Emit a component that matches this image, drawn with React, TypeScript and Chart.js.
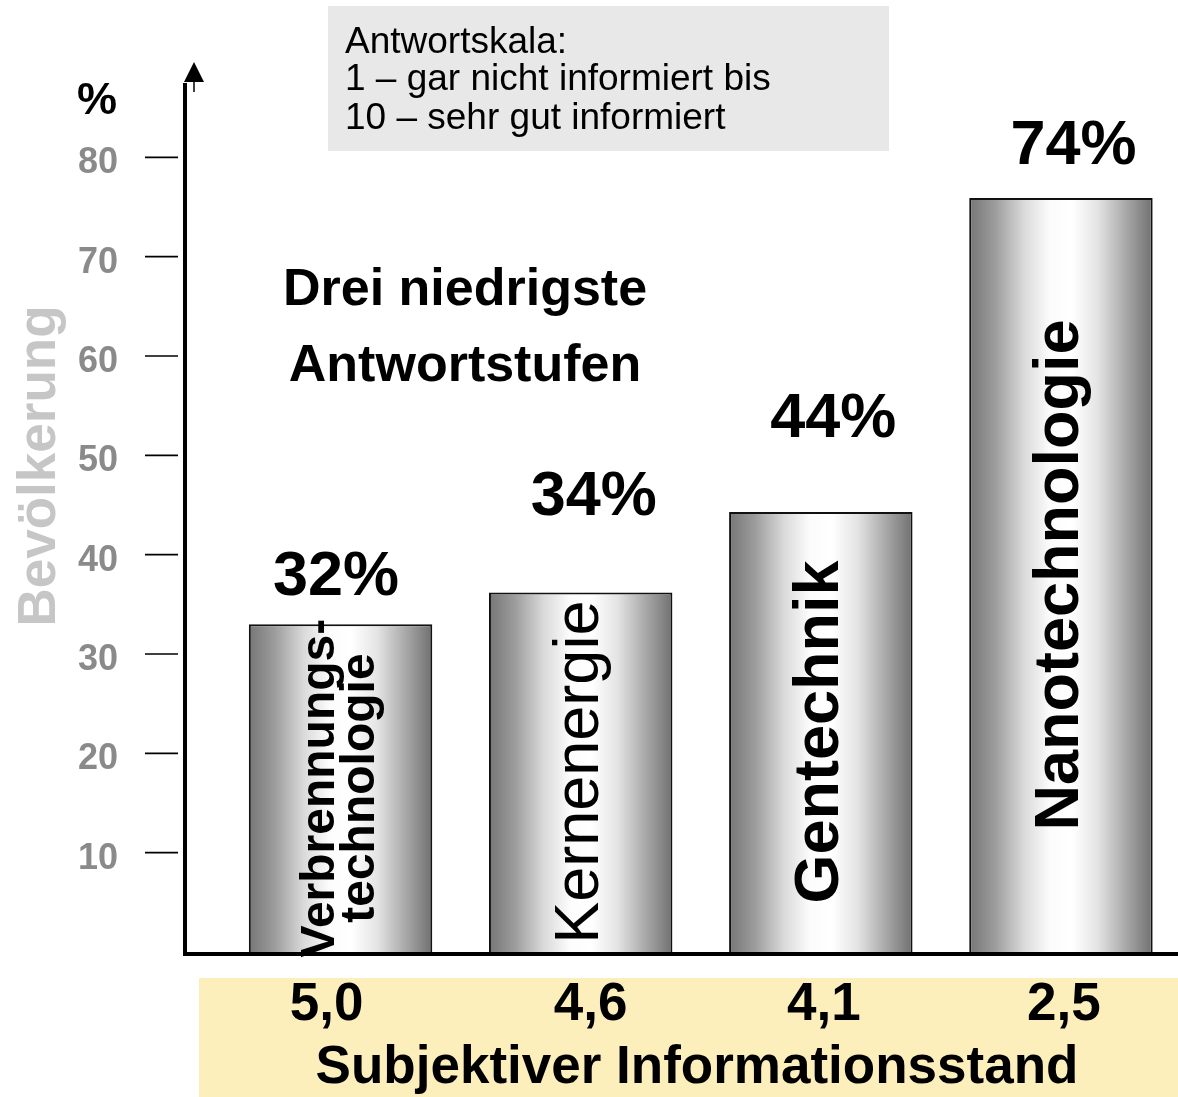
import React, { useEffect, useRef } from "react";
import { Chart, registerables } from "chart.js";

Chart.register(...registerables);

// ---- data ----
const technologies: string[][] = [
  ["Verbrennungs-", "technologie"],
  ["Kernenergie"],
  ["Gentechnik"],
  ["Nanotechnologie"],
];
const shareValues: number[] = [33.0, 36.2, 44.3, 75.9];
const shareLabels: string[] = ["32%", "34%", "44%", "74%"];
const infoScores: string[] = ["5,0", "4,6", "4,1", "2,5"];
const yTickValues: number[] = [10, 20, 30, 40, 50, 60, 70, 80];
const legendLines: string[] = ["Antwortskala:", "1 – gar nicht informiert bis", "10 – sehr gut informiert"];
const noteLines: string[] = ["Drei niedrigste", "Antwortstufen"];
const yTitle = "Bevölkerung";
const yUnit = "%";
const xTitle = "Subjektiver Informationsstand";

// ---- styles ----
const FONT = '"Liberation Sans", Arial, Helvetica, sans-serif';
const CANVAS_W = 1181;
const CANVAS_H = 1097;
const pctLabelPlace = [
  { dx: -4.5, dy: 29 },
  { dx: 13, dy: 77 },
  { dx: 12.5, dy: 75 },
  { dx: 12.5, dy: 34 },
];
const inBarStyle = [
  { font: `bold 48px ${FONT}`, offsets: [-7, 33] },
  { font: `normal 63px ${FONT}`, offsets: [17] },
  { font: `bold 63px ${FONT}`, offsets: [17] },
  { font: `bold 63px ${FONT}`, offsets: [17] },
];
const scoreDx = [-14, 10, 3, 3];

const overlay = {
  id: "overlay",
  beforeDraw(chart: any) {
    const ctx = chart.ctx as CanvasRenderingContext2D;
    ctx.save();
    ctx.fillStyle = "#ffffff";
    ctx.fillRect(0, 0, chart.width, chart.height);
    ctx.fillStyle = "#e8e8e8";
    ctx.fillRect(328, 6, 561, 145);
    ctx.fillStyle = "#fdefbb";
    ctx.fillRect(199, 978, chart.width - 199, chart.height - 978);
    ctx.restore();
  },
  afterDatasetsDraw(chart: any) {
    const ctx = chart.ctx as CanvasRenderingContext2D;
    const bars = chart.getDatasetMeta(0).data;
    ctx.save();
    ctx.fillStyle = "#000";
    bars.forEach((bar: any, i: number) => {
      const st = inBarStyle[i];
      ctx.save();
      ctx.translate(bar.x, (bar.y + bar.base) / 2);
      ctx.rotate(-Math.PI / 2);
      ctx.font = st.font;
      ctx.textAlign = "center";
      ctx.textBaseline = "alphabetic";
      technologies[i].forEach((line, j) => {
        ctx.fillText(line, 0, st.offsets[j]);
      });
      ctx.restore();
      const p = pctLabelPlace[i];
      ctx.font = `bold 63px ${FONT}`;
      ctx.textAlign = "center";
      ctx.textBaseline = "alphabetic";
      ctx.fillText(shareLabels[i], bar.x + p.dx, bar.y - p.dy);
      ctx.font = `bold 53px ${FONT}`;
      ctx.fillText(infoScores[i], bar.x + scoreDx[i], 1020);
    });
    ctx.restore();
  },
  afterDraw(chart: any) {
    const ctx = chart.ctx as CanvasRenderingContext2D;
    const y = chart.scales.y;
    const y0 = y.getPixelForValue(0);
    ctx.save();
    ctx.strokeStyle = "#000";
    ctx.lineWidth = 4;
    ctx.beginPath();
    ctx.moveTo(185, 83);
    ctx.lineTo(185, y0 + 2);
    ctx.lineTo(chart.width, y0 + 2);
    ctx.stroke();
    ctx.fillStyle = "#000";
    ctx.beginPath();
    ctx.moveTo(194, 62);
    ctx.lineTo(204, 82);
    ctx.lineTo(184, 82);
    ctx.closePath();
    ctx.fill();
    ctx.lineWidth = 1.5;
    ctx.beginPath();
    ctx.moveTo(194, 80);
    ctx.lineTo(194, 92);
    ctx.stroke();
    ctx.font = `bold 36px ${FONT}`;
    ctx.textAlign = "right";
    ctx.textBaseline = "alphabetic";
    yTickValues.forEach((v) => {
      const py = y.getPixelForValue(v);
      ctx.strokeStyle = "#000";
      ctx.lineWidth = 1.6;
      ctx.beginPath();
      ctx.moveTo(145, py);
      ctx.lineTo(178, py);
      ctx.stroke();
      ctx.fillStyle = "#8a8a8a";
      ctx.fillText(String(v), 118, py + 16);
    });
    ctx.fillStyle = "#000";
    ctx.font = `bold 45px ${FONT}`;
    ctx.textAlign = "left";
    ctx.fillText(yUnit, 77, 114);
    ctx.save();
    ctx.translate(55, 466);
    ctx.rotate(-Math.PI / 2);
    ctx.font = `bold 53px ${FONT}`;
    ctx.textAlign = "center";
    ctx.fillStyle = "#c6c6c6";
    ctx.fillText(yTitle, 0, 0);
    ctx.restore();
    ctx.fillStyle = "#000";
    ctx.font = `normal 37px ${FONT}`;
    ctx.textAlign = "left";
    const legendBase = [53, 90, 129];
    legendLines.forEach((t, i) => ctx.fillText(t, 345, legendBase[i]));
    ctx.font = `bold 52px ${FONT}`;
    ctx.textAlign = "center";
    const noteBase = [305, 381];
    noteLines.forEach((t, i) => ctx.fillText(t, 465, noteBase[i]));
    ctx.font = `bold 53px ${FONT}`;
    ctx.fillText(xTitle, 697, 1083);
    ctx.restore();
  },
};

export default function App() {
  const ref = useRef<HTMLCanvasElement | null>(null);
  useEffect(() => {
    if (!ref.current) return;
    const chart = new Chart(ref.current, {
      type: "bar",
      data: {
        labels: technologies.map((t) => t.join("")),
        datasets: [
          {
            data: shareValues,
            backgroundColor: (c: any) => {
              const ch = c.chart;
              const ca = ch.chartArea;
              if (!ca || c.dataIndex === undefined) return "#bbbbbb";
              const xs = ch.scales.x;
              const cx = xs.getPixelForValue(c.dataIndex);
              const w = ((ca.right - ca.left) / shareValues.length) * 0.764;
              const g = ch.ctx.createLinearGradient(cx - w / 2, 0, cx + w / 2, 0);
              g.addColorStop(0, "#767676");
              g.addColorStop(0.14, "#9c9c9c");
              g.addColorStop(0.3, "#dadada");
              g.addColorStop(0.44, "#fcfcfc");
              g.addColorStop(0.56, "#ffffff");
              g.addColorStop(0.7, "#e4e4e4");
              g.addColorStop(0.86, "#a6a6a6");
              g.addColorStop(1, "#707070");
              return g;
            },
            borderColor: "#111111",
            borderWidth: 2,
            borderSkipped: "bottom",
            barPercentage: 0.764,
            categoryPercentage: 1,
          },
        ],
      },
      options: {
        responsive: false,
        animation: false,
        layout: { padding: { left: 220.5, right: 0, top: 58, bottom: 145 } },
        plugins: { legend: { display: false }, tooltip: { enabled: false }, title: { display: false } },
        scales: {
          x: { display: false },
          y: { display: false, min: 0, max: 90 },
        },
      },
      plugins: [overlay],
    });
    return () => chart.destroy();
  }, []);
  return (
    <div style={{ position: "absolute", left: 0, top: 0, width: 1178, height: CANVAS_H, overflow: "hidden" }}>
      <canvas ref={ref} width={CANVAS_W} height={CANVAS_H} style={{ display: "block" }} />
    </div>
  );
}
